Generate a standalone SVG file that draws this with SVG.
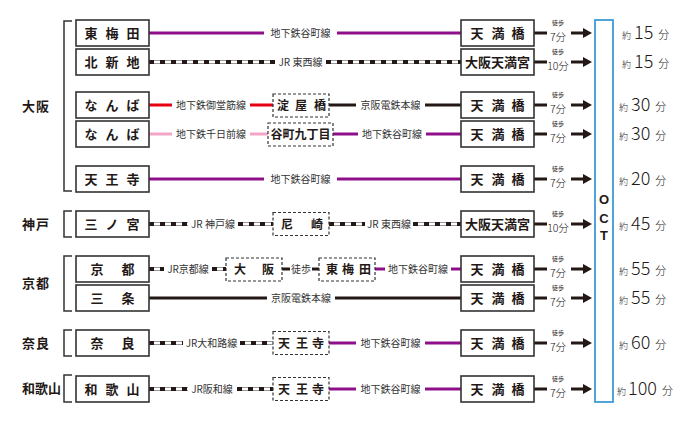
<svg xmlns="http://www.w3.org/2000/svg" width="690" height="423" viewBox="0 0 690 423">
<style>
text{font-family:"Noto Sans CJK JP","Liberation Sans",sans-serif;fill:#231815}
.reg{font-size:13px;font-weight:bold}
.st{font-size:13px;font-weight:bold;text-anchor:middle}
.sd{font-size:12px;font-weight:bold;text-anchor:middle}
.lb{font-size:10px;fill:#333;text-anchor:middle}
.box{fill:#fff;stroke:#333;stroke-width:1.6}
.dbox{fill:#fff;stroke:#333;stroke-width:1.2;stroke-dasharray:3 2}
.br{fill:none;stroke:#333;stroke-width:1.5}
.pu{stroke:#8f0e8a;stroke-width:3}
.bk{stroke:#231815;stroke-width:3}
.rd{stroke:#e60012;stroke-width:3}
.pk{stroke:#f3a5c8;stroke-width:3}
.j1{stroke:#999;stroke-width:4}
.j2{stroke:#fff;stroke-width:2}
.j3{stroke:#231815;stroke-width:4;stroke-dasharray:5 6}
.wk1{font-size:6px;text-anchor:middle}
.wk2{font-size:10.5px;text-anchor:middle;font-weight:300}
.oct{font-size:13px;font-weight:bold;text-anchor:middle;font-family:"Liberation Sans",sans-serif}
.tm{font-weight:300}
</style>
<defs>
<g id="arrow"><line x1="534" y1="0" x2="547" y2="0" class="bk"/><line x1="571" y1="0" x2="585" y2="0" class="bk"/><polygon points="583,-5 592,0 583,5" fill="#231815"/></g>
</defs>

<g id="regions">
<path class="br" d="M72,21H64V191H72"/>
<path class="br" d="M72,211H64V237H72"/>
<path class="br" d="M72,256H64V311H72"/>
<path class="br" d="M72,330H64V356H72"/>
<path class="br" d="M72,375H64V402H72"/>
<text class="reg" x="22" y="111" letter-spacing="1">大阪</text>
<text class="reg" x="22" y="229" letter-spacing="1">神戸</text>
<text class="reg" x="22" y="288" letter-spacing="1">京都</text>
<text class="reg" x="22" y="348" letter-spacing="1">奈良</text>
<text class="reg" x="22" y="393">和歌山</text>
</g>

<g id="connectors">
<!-- row1 -->
<line x1="149" y1="33" x2="264" y2="33" class="pu"/><line x1="337" y1="33" x2="461" y2="33" class="pu"/>
<!-- row2 -->
<g><line x1="149" y1="62" x2="275" y2="62" class="j1"/><line x1="149" y1="62" x2="275" y2="62" class="j2"/><line x1="149" y1="62" x2="275" y2="62" class="j3"/></g>
<g><line x1="326" y1="62" x2="461" y2="62" class="j1"/><line x1="326" y1="62" x2="461" y2="62" class="j2"/><line x1="326" y1="62" x2="461" y2="62" class="j3"/></g>
<!-- row3 -->
<line x1="149" y1="105" x2="172" y2="105" class="rd"/><line x1="250" y1="105" x2="273" y2="105" class="rd"/>
<line x1="329" y1="105" x2="356" y2="105" class="bk"/><line x1="425" y1="105" x2="461" y2="105" class="bk"/>
<!-- row4 -->
<line x1="149" y1="134" x2="172" y2="134" class="pk"/><line x1="250" y1="134" x2="268" y2="134" class="pk"/>
<line x1="333" y1="134" x2="358" y2="134" class="pu"/><line x1="426" y1="134" x2="461" y2="134" class="pu"/>
<!-- row5 -->
<line x1="149" y1="179" x2="264" y2="179" class="pu"/><line x1="337" y1="179" x2="461" y2="179" class="pu"/>
<!-- row6 -->
<g><line x1="149" y1="224" x2="188" y2="224" class="j1"/><line x1="149" y1="224" x2="188" y2="224" class="j2"/><line x1="149" y1="224" x2="188" y2="224" class="j3"/></g>
<g><line x1="238" y1="224" x2="273" y2="224" class="j1"/><line x1="238" y1="224" x2="273" y2="224" class="j2"/><line x1="238" y1="224" x2="273" y2="224" class="j3"/></g>
<g><line x1="329" y1="224" x2="365" y2="224" class="j1"/><line x1="329" y1="224" x2="365" y2="224" class="j2"/><line x1="329" y1="224" x2="365" y2="224" class="j3"/></g>
<g><line x1="413" y1="224" x2="461" y2="224" class="j1"/><line x1="413" y1="224" x2="461" y2="224" class="j2"/><line x1="413" y1="224" x2="461" y2="224" class="j3"/></g>
<!-- row7 -->
<g><line x1="149" y1="269" x2="164" y2="269" class="j1"/><line x1="149" y1="269" x2="164" y2="269" class="j2"/><line x1="149" y1="269" x2="164" y2="269" class="j3"/></g>
<g><line x1="212" y1="269" x2="226" y2="269" class="j1"/><line x1="212" y1="269" x2="226" y2="269" class="j2"/><line x1="212" y1="269" x2="226" y2="269" class="j3"/></g>
<line x1="282" y1="269" x2="290" y2="269" class="bk"/><line x1="312" y1="269" x2="319" y2="269" class="bk"/>
<line x1="375" y1="269" x2="385" y2="269" class="pu"/><line x1="451" y1="269" x2="461" y2="269" class="pu"/>
<!-- row8 -->
<line x1="149" y1="298" x2="267" y2="298" class="bk"/><line x1="335" y1="298" x2="461" y2="298" class="bk"/>
<!-- row9 -->
<g><line x1="149" y1="343" x2="183" y2="343" class="j1"/><line x1="149" y1="343" x2="183" y2="343" class="j2"/><line x1="149" y1="343" x2="183" y2="343" class="j3"/></g>
<g><line x1="240" y1="343" x2="273" y2="343" class="j1"/><line x1="240" y1="343" x2="273" y2="343" class="j2"/><line x1="240" y1="343" x2="273" y2="343" class="j3"/></g>
<line x1="329" y1="343" x2="356" y2="343" class="pu"/><line x1="425" y1="343" x2="461" y2="343" class="pu"/>
<!-- row10 -->
<g><line x1="149" y1="389" x2="188" y2="389" class="j1"/><line x1="149" y1="389" x2="188" y2="389" class="j2"/><line x1="149" y1="389" x2="188" y2="389" class="j3"/></g>
<g><line x1="237" y1="389" x2="273" y2="389" class="j1"/><line x1="237" y1="389" x2="273" y2="389" class="j2"/><line x1="237" y1="389" x2="273" y2="389" class="j3"/></g>
<line x1="329" y1="389" x2="356" y2="389" class="pu"/><line x1="425" y1="389" x2="461" y2="389" class="pu"/>

<!-- walk arrows -->
<use href="#arrow" y="33"/><use href="#arrow" y="62"/><use href="#arrow" y="105"/><use href="#arrow" y="134"/><use href="#arrow" y="179"/>
<use href="#arrow" y="224"/><use href="#arrow" y="269"/><use href="#arrow" y="298"/><use href="#arrow" y="343"/><use href="#arrow" y="389"/>
</g>

<g id="line-labels">
<text class="lb" x="300.5" y="37">地下鉄谷町線</text>
<text class="lb" x="300.5" y="66">JR 東西線</text>
<text class="lb" x="211" y="109">地下鉄御堂筋線</text>
<text class="lb" x="390.5" y="109">京阪電鉄本線</text>
<text class="lb" x="211" y="138">地下鉄千日前線</text>
<text class="lb" x="392" y="138">地下鉄谷町線</text>
<text class="lb" x="300.5" y="183">地下鉄谷町線</text>
<text class="lb" x="213" y="228">JR 神戸線</text>
<text class="lb" x="389" y="228">JR 東西線</text>
<text class="lb" x="188" y="273">JR京都線</text>
<text class="lb" x="301" y="273">徒歩</text>
<text class="lb" x="418" y="273">地下鉄谷町線</text>
<text class="lb" x="301" y="302">京阪電鉄本線</text>
<text class="lb" x="211.5" y="347">JR大和路線</text>
<text class="lb" x="390.5" y="347">地下鉄谷町線</text>
<text class="lb" x="212" y="393">JR阪和線</text>
<text class="lb" x="390.5" y="393">地下鉄谷町線</text>
</g>

<g id="origins">
<g id="o-higashiumeda"><rect class="box" x="76" y="20" width="73" height="26"/><text class="st" x="91 112 133" y="38">東梅田</text></g>
<g id="o-kitashinchi"><rect class="box" x="76" y="49" width="73" height="26"/><text class="st" x="91 112 133" y="67">北新地</text></g>
<g id="o-namba1"><rect class="box" x="76" y="92" width="73" height="26"/><text class="st" x="91 112 133" y="110">なんば</text></g>
<g id="o-namba2"><rect class="box" x="76" y="121" width="73" height="26"/><text class="st" x="91 112 133" y="139">なんば</text></g>
<g id="o-tennoji"><rect class="box" x="76" y="166" width="73" height="26"/><text class="st" x="91 112 133" y="184">天王寺</text></g>
<g id="o-sannomiya"><rect class="box" x="76" y="211" width="73" height="26"/><text class="st" x="91 112 133" y="229">三ノ宮</text></g>
<g id="o-kyoto"><rect class="box" x="76" y="256" width="73" height="26"/><text class="st" x="97 128" y="274">京都</text></g>
<g id="o-sanjo"><rect class="box" x="76" y="285" width="73" height="26"/><text class="st" x="97 128" y="303">三条</text></g>
<g id="o-nara"><rect class="box" x="76" y="330" width="73" height="26"/><text class="st" x="97 128" y="348">奈良</text></g>
<g id="o-wakayama"><rect class="box" x="76" y="376" width="73" height="26"/><text class="st" x="91 112 133" y="394">和歌山</text></g>
</g>

<g id="transfers">
<g id="t-yodoyabashi"><rect class="dbox" x="273" y="94" width="56" height="23"/><text class="sd" x="283 301 320" y="110">淀屋橋</text></g>
<g id="t-tanimachi9"><rect class="dbox" x="268" y="123" width="65" height="23"/><text class="sd" x="300.5" y="139">谷町九丁目</text></g>
<g id="t-amagasaki"><rect class="dbox" x="273" y="212.5" width="56" height="23"/><text class="sd" x="287 317" y="229">尼崎</text></g>
<g id="t-osaka"><rect class="dbox" x="226" y="258" width="56" height="23"/><text class="sd" x="240 268" y="274">大阪</text></g>
<g id="t-higashiumeda"><rect class="dbox" x="319" y="258" width="56" height="23"/><text class="sd" x="332 348 365" y="274">東梅田</text></g>
<g id="t-tennoji1"><rect class="dbox" x="273" y="331.5" width="56" height="23"/><text class="sd" x="284 302 318" y="348">天王寺</text></g>
<g id="t-tennoji2"><rect class="dbox" x="273" y="377.5" width="56" height="23"/><text class="sd" x="284 302 318" y="394">天王寺</text></g>
</g>

<g id="destinations">
<g><rect class="box" x="461" y="20" width="73" height="26"/><text class="st" x="477 498 518" y="38">天満橋</text></g>
<g><rect class="box" x="461" y="49" width="73" height="26"/><text class="st" x="497.5" y="67">大阪天満宮</text></g>
<g><rect class="box" x="461" y="92" width="73" height="26"/><text class="st" x="477 498 518" y="110">天満橋</text></g>
<g><rect class="box" x="461" y="121" width="73" height="26"/><text class="st" x="477 498 518" y="139">天満橋</text></g>
<g><rect class="box" x="461" y="166" width="73" height="26"/><text class="st" x="477 498 518" y="184">天満橋</text></g>
<g><rect class="box" x="461" y="211" width="73" height="26"/><text class="st" x="497.5" y="229">大阪天満宮</text></g>
<g><rect class="box" x="461" y="256" width="73" height="26"/><text class="st" x="477 498 518" y="274">天満橋</text></g>
<g><rect class="box" x="461" y="285" width="73" height="26"/><text class="st" x="477 498 518" y="303">天満橋</text></g>
<g><rect class="box" x="461" y="330" width="73" height="26"/><text class="st" x="477 498 518" y="348">天満橋</text></g>
<g><rect class="box" x="461" y="376" width="73" height="26"/><text class="st" x="477 498 518" y="394">天満橋</text></g>
</g>

<g id="walks">
<text class="wk1" x="558" y="25">徒歩</text><text class="wk2" x="558" y="40.5">7分</text>
<text class="wk1" x="558" y="54">徒歩</text><text class="wk2" x="558" y="69.5">10分</text>
<text class="wk1" x="558" y="97">徒歩</text><text class="wk2" x="558" y="112.5">7分</text>
<text class="wk1" x="558" y="126">徒歩</text><text class="wk2" x="558" y="141.5">7分</text>
<text class="wk1" x="558" y="171">徒歩</text><text class="wk2" x="558" y="186.5">7分</text>
<text class="wk1" x="558" y="216">徒歩</text><text class="wk2" x="558" y="231.5">10分</text>
<text class="wk1" x="558" y="261">徒歩</text><text class="wk2" x="558" y="276.5">7分</text>
<text class="wk1" x="558" y="290">徒歩</text><text class="wk2" x="558" y="305.5">7分</text>
<text class="wk1" x="558" y="335">徒歩</text><text class="wk2" x="558" y="350.5">7分</text>
<text class="wk1" x="558" y="381">徒歩</text><text class="wk2" x="558" y="396.5">7分</text>
</g>

<g id="oct">
<rect x="595" y="20" width="18" height="382" fill="#fff" stroke="#3d9ad8" stroke-width="1.8"/>
<text class="oct" x="604" y="204">O</text>
<text class="oct" x="604" y="223">C</text>
<text class="oct" x="604" y="240">T</text>
</g>

<g id="times" class="tm">
<text x="622" y="39"><tspan font-size="9">約</tspan><tspan font-size="18" dx="3">15</tspan><tspan font-size="11" dx="5">分</tspan></text>
<text x="622" y="68"><tspan font-size="9">約</tspan><tspan font-size="18" dx="3">15</tspan><tspan font-size="11" dx="5">分</tspan></text>
<text x="619" y="111"><tspan font-size="9">約</tspan><tspan font-size="18" dx="3">30</tspan><tspan font-size="11" dx="5">分</tspan></text>
<text x="619" y="140"><tspan font-size="9">約</tspan><tspan font-size="18" dx="3">30</tspan><tspan font-size="11" dx="5">分</tspan></text>
<text x="619" y="185"><tspan font-size="9">約</tspan><tspan font-size="18" dx="3">20</tspan><tspan font-size="11" dx="5">分</tspan></text>
<text x="619" y="230"><tspan font-size="9">約</tspan><tspan font-size="18" dx="3">45</tspan><tspan font-size="11" dx="5">分</tspan></text>
<text x="619" y="275"><tspan font-size="9">約</tspan><tspan font-size="18" dx="3">55</tspan><tspan font-size="11" dx="5">分</tspan></text>
<text x="619" y="304"><tspan font-size="9">約</tspan><tspan font-size="18" dx="3">55</tspan><tspan font-size="11" dx="5">分</tspan></text>
<text x="619" y="349"><tspan font-size="9">約</tspan><tspan font-size="18" dx="3">60</tspan><tspan font-size="11" dx="5">分</tspan></text>
<text x="617" y="395"><tspan font-size="9">約</tspan><tspan font-size="18" dx="2">100</tspan><tspan font-size="11" dx="5">分</tspan></text>
</g>
</svg>
